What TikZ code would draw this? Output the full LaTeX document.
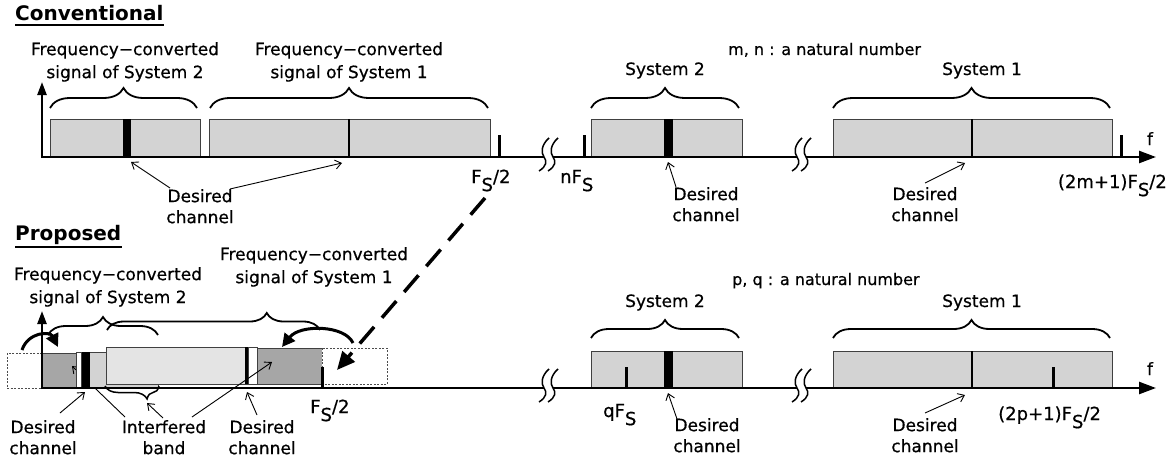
\documentclass[tikz,border=0pt]{standalone}
\usepackage{fontspec}
\setmainfont{DejaVu Sans}
\newfontfamily\gothic[FakeBold=0.6]{DejaVu Sans}
\usetikzlibrary{arrows.meta,decorations.pathreplacing}
\definecolor{lfill}{HTML}{D3D3D3}
\definecolor{llfill}{HTML}{E4E4E4}
\definecolor{dfill}{HTML}{A6A6A6}
\newcommand{\fsub}{F\raisebox{-0.45em}{S}}
\newcommand{\fz}[2]{\fontsize{#1}{#2}\selectfont}
\begin{document}
\begin{tikzpicture}[x=1pt,y=-1pt,
  ax/.style={line width=2.4pt},
  bandbox/.style={draw=black!75,line width=0.8pt,fill=lfill},
  ltbox/.style={draw=black!75,line width=0.8pt,fill=llfill},
  dkbox/.style={draw=black!75,line width=0.8pt,fill=dfill},
  wbox/.style={draw=black!75,line width=0.8pt,fill=white},
  ghost/.style={draw=black!70,line width=0.8pt,dash pattern=on 2pt off 1.5pt,fill=white},
  tk/.style={line width=3pt},
  brc/.style={decorate,decoration={brace,amplitude=#1},line width=1.8pt},
  brc/.default=20pt,
  lab/.style={inner sep=0pt,align=center,font=\gothic\fz{17}{21}},
  labfc/.style={inner sep=0pt,align=center,font=\gothic\fz{17}{23}},
  lab1/.style={inner sep=0pt,font=\gothic\fz{17}{21}},
  small/.style={inner sep=0pt,font=\gothic\fz{16}{20}},
  fsl/.style={inner sep=0pt,font=\gothic\fz{18}{22}},
  ttl/.style={inner sep=0pt,font=\bfseries\fz{20}{24}},
  thinarr/.style={line width=0.9pt,-{Straight Barb[length=6pt,width=9pt,line width=0.9pt]}},
  bigarr/.style={line width=3pt,-{Triangle[length=13pt,width=13pt]}},
  dasharr/.style={line width=3.5pt,dash pattern=on 22pt off 12pt,-{Triangle[length=18pt,width=16pt]}},
  axarr/.style={ax,-{Triangle[length=17pt,width=12pt]}},
  vaxarr/.style={ax,-{Triangle[length=13pt,width=9pt]}},
  brk/.pic={
    \fill[white] (5,-19) .. controls (-3,-12) and (-3,-4) .. (0,0) .. controls (3,4) and (3,9) .. (-5,14)
      -- (4,14) .. controls (12,9) and (12,4) .. (9,0) .. controls (6,-4) and (6,-12) .. (14,-19) -- cycle;
    \draw[line width=1.5pt] (5,-19) .. controls (-3,-12) and (-3,-4) .. (0,0) .. controls (3,4) and (3,9) .. (-5,14);
    \draw[line width=1.5pt] (14,-19) .. controls (6,-12) and (6,-4) .. (9,0) .. controls (12,4) and (12,9) .. (4,14);
  }
]
\useasboundingbox (0,0) rectangle (1175,460);

% ================= Conventional =================
\node[ttl,anchor=base west] (conv) at (15,21) {Conventional};
\draw[line width=1.8pt] ([yshift=-4pt]conv.base west) -- ([yshift=-4pt]conv.base east);

\node[labfc,anchor=north] (fc2t) at (125,42) {Frequency−converted\\signal of System 2};
\node[labfc,anchor=north] (fc1t) at (349,42) {Frequency−converted\\signal of System 1};
\node[small,anchor=base west] (mn) at (728,55) {m, n : a natural number};
\node[lab1,anchor=base] (s2t) at (665,75) {System 2};
\node[lab1,anchor=base] (s1t) at (982,75) {System 1};
\node[fsl,anchor=base west] (fs2t) at (471,183) {\fsub/2};
\node[fsl,anchor=base west] (nfs) at (560,183) {n\fsub};
\node[fsl,anchor=base east] (mfs) at (1167,188) {(2m+1)\fsub/2};
\node[lab1,anchor=base] (ft) at (1150,145) {f};
\node[lab,anchor=north] (dc1t) at (200,189) {Desired\\channel};
\node[lab,anchor=north] (dc2t) at (706,187) {Desired\\channel};
\node[lab,anchor=north] (dc3t) at (925,187) {Desired\\channel};

% bands
\draw[bandbox] (50,119) rectangle (200,157);
\fill (123,119) rectangle (131,157);
\draw[bandbox] (209,119) rectangle (490,157);
\draw[line width=2pt] (349,119) -- (349,157);
\draw[bandbox] (591,119) rectangle (742,157);
\fill (664,119) rectangle (673,157);
\draw[bandbox] (833,119) rectangle (1112,157);
\draw[line width=2.5pt] (972,119) -- (972,157);
\draw[tk] (499,135) -- (499,157);
\draw[tk] (584,135) -- (584,157);
\draw[tk] (1121,135) -- (1121,157);

% axes
\draw[axarr] (42,157) -- (1156,157);
\draw[vaxarr] (42,158) -- (42,82);
\pic at (544,157) {brk};
\pic at (797,157) {brk};

% braces
\draw[brc] (50,108) -- (197,108);
\draw[brc] (210,108) -- (488,108);
\draw[brc] (591,108) -- (739,108);
\draw[brc] (833,108) -- (1110,108);

% desired-channel arrows
\coordinate (a1s) at (170,188); \coordinate (a1e) at (131,162);
\coordinate (a2s) at (230,189); \coordinate (a2e) at (342,163);
\coordinate (a3s) at (676,187); \coordinate (a3e) at (668,162);
\coordinate (a4s) at (925,183); \coordinate (a4e) at (965,163);
\draw[thinarr] (a1s) -- (a1e);
\draw[thinarr] (a2s) -- (a2e);
\draw[thinarr] (a3s) -- (a3e);
\draw[thinarr] (a4s) -- (a4e);

% ================= Proposed =================
\node[ttl,anchor=base west] (prop) at (15,240) {Proposed};
\draw[line width=1.8pt] ([yshift=-7pt]prop.base west) -- ([yshift=-7pt]prop.base east);

\node[labfc,anchor=north] (fc2b) at (108,267) {Frequency−converted\\signal of System 2};
\node[labfc,anchor=north] (fc1b) at (314,247) {Frequency−converted\\signal of System 1};
\node[small,anchor=base west] (pq) at (732,285) {p, q : a natural number};
\node[lab1,anchor=base] (s2b) at (665,307) {System 2};
\node[lab1,anchor=base] (s1b) at (982,307) {System 1};
\node[fsl,anchor=base west] (fs2b) at (310,413) {\fsub/2};
\node[fsl,anchor=base west] (qfs) at (603,417) {q\fsub};
\node[fsl,anchor=base west] (pfs) at (998,420) {(2p+1)\fsub/2};
\node[lab1,anchor=base] (fb) at (1150,375) {f};
\node[lab,anchor=north] (dcl) at (43,420) {Desired\\channel};
\node[lab,anchor=north] (ib) at (164,420) {Interfered\\band};
\node[lab,anchor=north] (dcm) at (262,420) {Desired\\channel};
\node[lab,anchor=north] (dc2b) at (707,418) {Desired\\channel};
\node[lab,anchor=north] (dc3b) at (925,418) {Desired\\channel};

% left part
\draw[ghost] (7,353) rectangle (42,388);
\draw[dkbox] (42,353) rectangle (76,388);
\coordinate (i1s) at (125,417); \coordinate (i1e) at (72,366);
\draw[thinarr] (i1s) -- (i1e);
\draw[bandbox] (76,352) rectangle (158,388);
\draw[wbox] (76,352) rectangle (81,388);
\fill (82,352) rectangle (90,388);
\draw[ltbox] (106,347) rectangle (257,384);
\draw[wbox] (248,347) rectangle (257,384);
\fill (245,347) rectangle (248,384);
\draw[dkbox] (257,348) rectangle (322,384);
\draw[ghost] (322,348) rectangle (387,384);
\draw[tk] (322,367) -- (322,388);

% right bands
\draw[bandbox] (591,351) rectangle (742,388);
\fill (664,351) rectangle (673,388);
\draw[tk] (626,367) -- (626,388);
\draw[bandbox] (833,351) rectangle (1112,388);
\draw[line width=2.5pt] (972,351) -- (972,388);
\draw[tk] (1053,367) -- (1053,388);

% axes
\draw[axarr] (42,388) -- (1156,388);
\draw[vaxarr] (42,389) -- (42,311);
\pic at (544,388) {brk};
\pic at (797,388) {brk};

% braces
\draw[brc=18pt] (48,335) -- (158,335);
\draw[brc=17pt,decoration={aspect=0.75}] (107,330) -- (320,330);
\draw[brc=13pt,line width=1.5pt,decoration={mirror,aspect=0.78}] (105,386) -- (159,386);
\draw[brc=18pt] (591,338) -- (739,338);
\draw[brc=18pt] (833,338) -- (1110,338);

% curved wrap arrows
\coordinate (cl1) at (22,350); \coordinate (cl2) at (58,347);
\draw[bigarr] (cl1) .. controls (28,332) and (50,331) .. (cl2);
\coordinate (cr1) at (353,343); \coordinate (cr2) at (282,347);
\draw[bigarr] (cr1) .. controls (345,325) and (300,324) .. (cr2);

% dashed arrow
\coordinate (d1) at (485,198); \coordinate (d2) at (337,370);
\draw[dasharr] (d1) -- (d2);

% label arrows
\coordinate (b1s) at (60,413); \coordinate (b1e) at (85,392);
\coordinate (b2s) at (163,418); \coordinate (b2e) at (147,403);
\coordinate (b3s) at (192,417); \coordinate (b3e) at (272,362);
\coordinate (b4s) at (257,415); \coordinate (b4e) at (247,392);
\coordinate (b5s) at (677,419); \coordinate (b5e) at (668,393);
\coordinate (b6s) at (925,413); \coordinate (b6e) at (965,395);
\draw[thinarr] (b1s) -- (b1e);
\draw[thinarr] (b2s) -- (b2e);
\draw[thinarr] (b3s) -- (b3e);
\draw[thinarr] (b4s) -- (b4e);
\draw[thinarr] (b5s) -- (b5e);
\draw[thinarr] (b6s) -- (b6e);
\end{tikzpicture}
\end{document}
